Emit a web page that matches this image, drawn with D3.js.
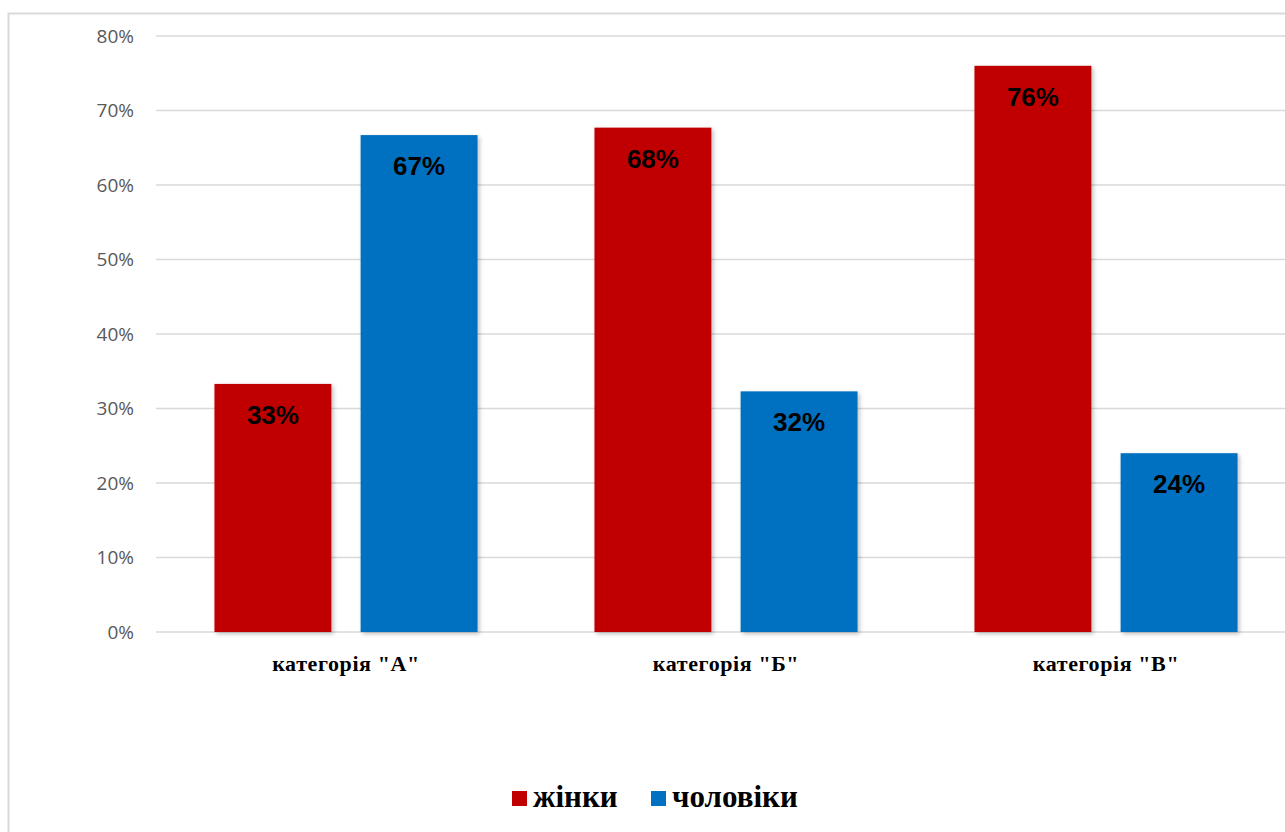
<!DOCTYPE html>
<html>
<head>
<meta charset="utf-8">
<script src="https://cdn.jsdelivr.net/npm/d3@7"></script>
<style>
  body { margin: 0; background: #fff; }
</style>
</head>
<body>
<div id="chart"></div>
<script>
// chart data
var categories = ['категорія "А"', 'категорія "Б"', 'категорія "В"'];
var seriesNames = ["жінки", "чоловіки"];
var women = [33.3, 67.7, 76];
var men = [66.7, 32.3, 24];
var barLabels = [["33%", "67%"], ["68%", "32%"], ["76%", "24%"]];
var yTicks = [0, 10, 20, 30, 40, 50, 60, 70, 80];
var colors = ["#c00000", "#0070c0"];

var width = 1285, height = 832;

var svg = d3.select("#chart")
    .append("svg")
    .attr("width", width)
    .attr("height", height);

// soft shadow on bars, like the office chart
var defs = svg.append("defs");
var f = defs.append("filter").attr("id", "shadow")
    .attr("x", "-10%").attr("y", "-10%").attr("width", "130%").attr("height", "130%");
f.append("feDropShadow")
    .attr("dx", 2).attr("dy", 2).attr("stdDeviation", 2)
    .attr("flood-color", "#000").attr("flood-opacity", 0.25);

// outer frame
svg.append("rect")
    .attr("x", 8.5).attr("y", 13.5)
    .attr("width", 1400).attr("height", 900)
    .attr("fill", "none")
    .attr("stroke", "#d9d9d9")
    .attr("stroke-width", 2);

var x0 = d3.scaleBand().domain(categories).range([156, 1296]);
var x1 = d3.scaleBand().domain(seriesNames).range([0, x0.bandwidth()])
    .paddingInner(0.2).paddingOuter(0.4);
var y = d3.scaleLinear().domain([0, 80]).range([632, 36]);

// gridlines
svg.append("g")
    .selectAll("line")
    .data(yTicks)
    .enter().append("line")
    .attr("x1", 156).attr("x2", width)
    .attr("y1", function (d) { return y(d); })
    .attr("y2", function (d) { return y(d); })
    .attr("stroke", "#d9d9d9")
    .attr("stroke-width", 1.5);

// y axis labels
var yAxis = d3.axisLeft(y)
    .tickValues(yTicks)
    .tickSize(0)
    .tickPadding(0)
    .tickFormat(function (d) { return d + "%"; });
var yg = svg.append("g").attr("transform", "translate(134,0)").call(yAxis);
yg.select(".domain").remove();
yg.selectAll("text")
    .attr("fill", "#595959")
    .style("font-family", "'Open Sans', 'Liberation Sans', sans-serif")
    .style("font-size", "19px");

// bars
var rows = categories.map(function (c, i) {
    return [
        { cat: c, s: seriesNames[0], v: women[i], label: barLabels[i][0], color: colors[0] },
        { cat: c, s: seriesNames[1], v: men[i], label: barLabels[i][1], color: colors[1] }
    ];
});

var group = svg.selectAll(".cat")
    .data(rows)
    .enter().append("g")
    .attr("class", "cat")
    .attr("transform", function (d, i) { return "translate(" + x0(categories[i]) + ",0)"; });

group.selectAll("rect")
    .data(function (d) { return d; })
    .enter().append("rect")
    .attr("x", function (d) { return x1(d.s); })
    .attr("y", function (d) { return y(d.v); })
    .attr("width", x1.bandwidth())
    .attr("height", function (d) { return y(0) - y(d.v); })
    .attr("fill", function (d) { return d.color; })
    .attr("filter", "url(#shadow)");

group.selectAll(".lbl")
    .data(function (d) { return d; })
    .enter().append("text")
    .attr("class", "lbl")
    .attr("x", function (d) { return x1(d.s) + x1.bandwidth() / 2; })
    .attr("y", function (d) { return y(d.v) + 40; })
    .attr("text-anchor", "middle")
    .style("font-family", "'Liberation Sans', Arial, sans-serif")
    .style("font-weight", "bold")
    .style("font-size", "26px")
    .attr("fill", "#000")
    .text(function (d) { return d.label; });

// category labels
svg.selectAll(".catlbl")
    .data(categories)
    .enter().append("text")
    .attr("class", "catlbl")
    .attr("x", function (d) { return x0(d) + x0.bandwidth() / 2; })
    .attr("y", 671)
    .attr("text-anchor", "middle")
    .style("font-family", "'Liberation Serif', 'Times New Roman', serif")
    .style("font-weight", "bold")
    .style("font-size", "22px")
    .style("letter-spacing", "0.6px")
    .attr("fill", "#000")
    .text(function (d) { return d; });

// legend
var legendX = [512, 651];
var legend = svg.selectAll(".leg")
    .data(seriesNames)
    .enter().append("g")
    .attr("class", "leg")
    .attr("transform", function (d, i) { return "translate(" + legendX[i] + ",791)"; });
legend.append("rect")
    .attr("width", 15).attr("height", 15)
    .attr("fill", function (d, i) { return colors[i]; });
legend.append("text")
    .attr("x", 21).attr("y", 16)
    .style("font-family", "'Liberation Serif', 'Times New Roman', serif")
    .style("font-weight", "bold")
    .style("font-size", "31px")
    .attr("fill", "#000")
    .text(function (d) { return d; });
</script>
</body>
</html>
